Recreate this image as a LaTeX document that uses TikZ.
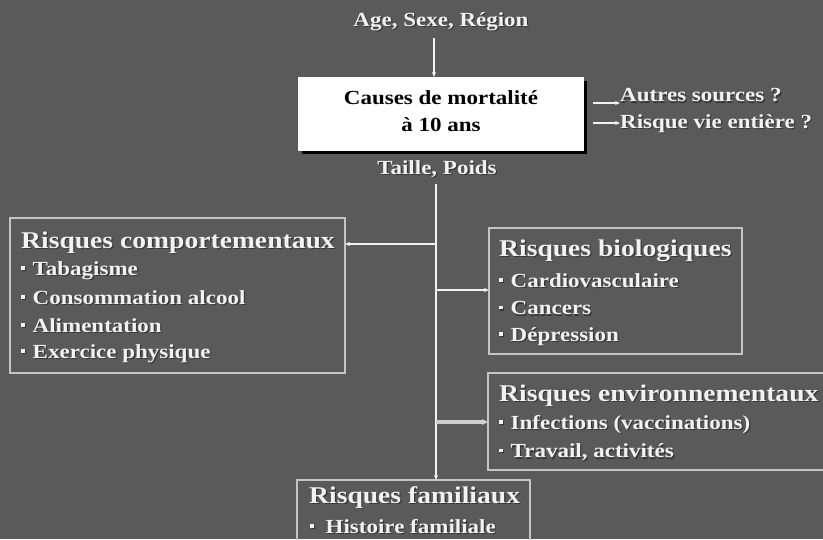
\documentclass[tikz,border=0pt]{standalone}
\usepackage{fontspec}
\setmainfont{Liberation Serif}[FakeStretch=1.15]
\usetikzlibrary{arrows.meta}
\definecolor{bg}{HTML}{5A5A5A}
\definecolor{ink}{HTML}{F2F2F2}
\definecolor{shade}{HTML}{363636}
\definecolor{frame}{HTML}{C4C4C4}
\tikzset{
  x=1pt, y=-1pt,
  lbl/.style={text=ink, font=\bfseries\fontsize{20}{20}\selectfont, inner sep=0pt},
  ttl/.style={text=ink, font=\bfseries\fontsize{24}{24}\selectfont, inner sep=0pt, anchor=west},
  itm/.style={text=ink, font=\bfseries\fontsize{20}{20}\selectfont, inner sep=0pt, anchor=west},
  riskbox/.style={draw=frame, line width=1.3pt},
  link/.style={draw=ink, line width=1.6pt},
  tip/.style={-{Stealth[length=5pt,width=4pt]}}
}
% text with a soft dark drop shadow
\newcommand{\sh}[1]{\leavevmode\rlap{\kern1.2pt\raisebox{-1.2pt}{\color{shade}#1}}#1}
% square list bullet followed by the item text
\newcommand{\bul}[1]{\sh{\raisebox{0.28em}{\rule{3.5pt}{3.5pt}}}\hspace{8pt}\sh{#1}}
\begin{document}
\begin{tikzpicture}
\fill[bg] (0,0) rectangle (823,539);
\useasboundingbox (0,0) rectangle (823,539);

% top inputs and main box
\node[lbl] (age) at (441,22) {\sh{Age, Sexe, Région}};
\fill[black] (302,81) rectangle (587,154);
\node[draw=white, fill=white, minimum width=285pt, minimum height=73pt, inner sep=0pt,
      anchor=north west] (causes) at (298,77) {};
\node[lbl, text=black, align=center, font=\bfseries\fontsize{20}{27}\selectfont] at (441,111) {Causes de mortalité\\à 10 ans};
\coordinate (agefoot) at (434,38);
\draw[link, tip] (agefoot) -- (causes.north -| agefoot);

\node[lbl, anchor=west] (autres) at (620,96) {\sh{Autres sources ?}};
\node[lbl, anchor=west] (vie) at (620,124) {\sh{Risque vie entière ?}};
\coordinate (a1) at (593,103);
\coordinate (a2) at (593,123);
\draw[link, tip] (a1) -- (autres.west |- a1);
\draw[link, tip] (a2) -- (vie.west |- a2);

\node[lbl] (taille) at (437,170) {\sh{Taille, Poids}};

% risk boxes
\draw[riskbox] (10,218) rectangle (345,373);
\coordinate (comp) at (345,244);
\node[ttl] at (21,243) {\sh{Risques comportementaux}};
\node[itm] at (21,271) {\bul{Tabagisme}};
\node[itm] at (21,298) {\bul{Consommation alcool}};
\node[itm] at (21,326) {\bul{Alimentation}};
\node[itm] at (21,354) {\bul{Exercice physique}};

\draw[riskbox] (489,228) rectangle (742,354);
\coordinate (bio) at (489,290);
\node[ttl] at (499,251) {\sh{Risques biologiques}};
\node[itm] at (499,281) {\bul{Cardiovasculaire}};
\node[itm] at (499,309) {\bul{Cancers}};
\node[itm] at (499,337) {\bul{Dépression}};

\draw[riskbox] (488,373) rectangle (830,470);
\coordinate (env) at (488,422);
\node[ttl] at (499,396) {\sh{Risques environnementaux}};
\node[itm] at (499,425) {\bul{Infections (vaccinations)}};
\node[itm] at (499,453) {\bul{Travail, activités}};

\draw[riskbox] (297,480) rectangle (530,545);
\coordinate (fam) at (436,480);
\node[ttl] at (309,498) {\sh{Risques familiaux}};
\node[itm] at (310,527) {\bul{\hspace{4pt}Histoire familiale}};

% distribution spine
\coordinate (spine) at (436,184);
\draw[link, tip] (spine) -- (fam);
\draw[link, tip] (comp -| spine) -- (comp);
\draw[link, tip] (bio -| spine) -- (bio);
\draw[draw=ink!85!black, line width=4pt, -{Stealth[length=6pt,width=6pt]}] (env -| spine) -- (env);
\end{tikzpicture}
\end{document}
